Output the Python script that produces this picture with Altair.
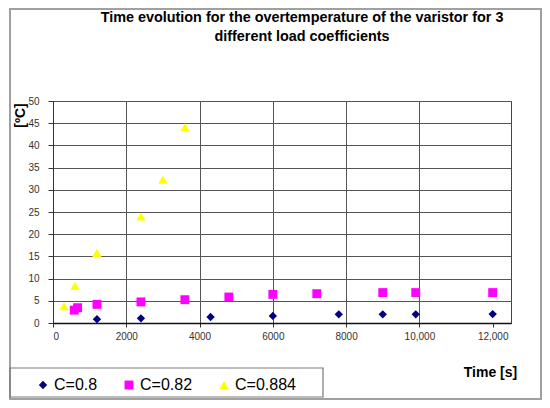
import altair as alt
import pandas as pd

# ---- data ----
series_names = ["C=0.8", "C=0.82", "C=0.884"]

t_08 = [1200, 2400, 4300, 6000, 7800, 9000, 9900, 12000]
v_08 = [0.85, 1.05, 1.35, 1.6, 1.95, 1.95, 1.95, 2.0]

t_082 = [580, 670, 1200, 2400, 3600, 4800, 6000, 7200, 9000, 9900, 12000]
v_082 = [2.9, 3.45, 4.2, 4.75, 5.25, 5.85, 6.45, 6.6, 6.85, 6.85, 6.85]

t_0884 = [300, 600, 1200, 2400, 3000, 3600]
v_0884 = [3.8, 8.4, 15.8, 24.0, 32.3, 44.1]

x_ticks = [0, 2000, 4000, 6000, 8000, 10000, 12000]
y_ticks = [0, 5, 10, 15, 20, 25, 30, 35, 40, 45, 50]

title_lines = ["Time evolution for the overtemperature of the varistor for 3",
               "different load coefficients"]
x_title = "Time [s]"
y_title = "[ºC]"

colors = ["#000080", "#FF00FF", "#FFFF00"]
shapes = ["diamond", "square", "triangle-up"]
sizes = [70, 88, 100]

rows = []
for name, ts, vs in zip(series_names, [t_08, t_082, t_0884], [v_08, v_082, v_0884]):
    for t, v in zip(ts, vs):
        rows.append({"series": name, "time": t, "temp": v})
df = pd.DataFrame(rows)

FONT = "Liberation Sans"
W, H = 458, 222

frame = pd.DataFrame({"k": [0]})

outer = alt.Chart(frame).mark_rect(fillOpacity=0, stroke="#a0a0a0", strokeWidth=2).encode(
    x=alt.value(-43), x2=alt.value(W + 30), y=alt.value(-92), y2=alt.value(H + 76)
)
legend_box = alt.Chart(frame).mark_rect(fillOpacity=0, stroke="#7a7a7a", strokeWidth=1.2).encode(
    x=alt.value(-43), x2=alt.value(270), y=alt.value(267), y2=alt.value(296)
)

points = alt.Chart(df).mark_point(filled=True, opacity=1, strokeWidth=0).encode(
    x=alt.X("time:Q",
            scale=alt.Scale(domain=[0, 12500], nice=False, zero=True),
            axis=alt.Axis(values=x_ticks, title=x_title,
                          labelExpr="datum.value >= 10000 ? format(datum.value, ',') : format(datum.value, 'd')",
                          titleX=437, titleY=53, titleAlign="center", titleBaseline="alphabetic",
                          titleFontSize=14, titleFontWeight="bold", titleFont=FONT, titleColor="#000",
                          labelFontSize=10, labelFont=FONT, labelColor="#333", labelPadding=4,
                          tickSize=4, tickColor="#333", domainColor="#111", domainWidth=1.5,
                          gridColor="#555", gridWidth=1,
                          gridOpacity={"condition": {"test": "datum.value >= 12000", "value": 0}, "value": 1})),
    y=alt.Y("temp:Q",
            scale=alt.Scale(domain=[0, 50], nice=False),
            axis=alt.Axis(values=y_ticks, title=y_title,
                          titleX=-33, titleY=14, titleAngle=270, titleAlign="center", titleBaseline="middle",
                          titleFontSize=14, titleFontWeight="bold", titleFont=FONT, titleColor="#000",
                          labelFontSize=10, labelFont=FONT, labelColor="#333", labelPadding=9,
                          tickSize=5, tickColor="#333", domainColor="#333",
                          gridColor="#555", gridWidth=1)),
    color=alt.Color("series:N", scale=alt.Scale(domain=series_names, range=colors),
                    legend=alt.Legend(orient="none", legendX=-18, legendY=276, direction="horizontal",
                                      title=None, labelFontSize=16, labelFont=FONT, labelColor="#000",
                                      columnPadding=23, labelOffset=3, padding=0,
                                      symbolStrokeWidth=0, symbolOpacity=1)),
    shape=alt.Shape("series:N", scale=alt.Scale(domain=series_names, range=shapes)),
    size=alt.Size("series:N", scale=alt.Scale(domain=series_names, range=sizes)),
)

chart = alt.layer(outer, legend_box, points).properties(
    width=W, height=H,
    title=alt.TitleParams(text=title_lines, fontSize=14.4, fontWeight="bold", font=FONT,
                          anchor="middle", dx=20, dy=36, offset=0, lineHeight=18.5, color="#000"),
    autosize=alt.AutoSizeParams(type="none"),
    padding={"left": 45, "top": 93, "right": 31, "bottom": 77},
    background="white",
).configure_view(stroke="#444", strokeWidth=1)

chart.save("out.html", embed_options={"renderer": "svg", "actions": False})
